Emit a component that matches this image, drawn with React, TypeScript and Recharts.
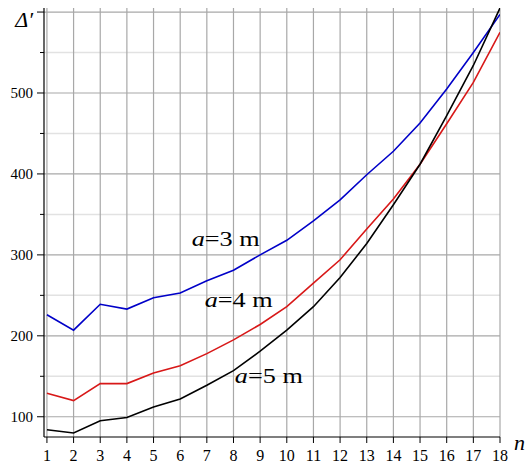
import React from 'react';
import { LineChart, Line, XAxis, YAxis, CartesianGrid, ReferenceDot, Label } from 'recharts';

const nValues = [1, 2, 3, 4, 5, 6, 7, 8, 9, 10, 11, 12, 13, 14, 15, 16, 17, 18];
const seriesA3 = [226, 207, 239, 233, 247, 253, 268, 281, 300, 318, 342, 368, 399, 428, 463, 505, 550, 597];
const seriesA4 = [129, 120, 141, 141, 154, 163, 178, 195, 214, 236, 265, 294, 332, 369, 412, 462, 513, 575];
const seriesA5 = [84, 80, 95, 99, 112, 122, 139, 157, 181, 207, 236, 272, 314, 362, 412, 472, 534, 605];
const yMajor = [100, 200, 300, 400, 500, 600];
const yMinor = [150, 250, 350, 450, 550];
const yTicks = [100, 150, 200, 250, 300, 350, 400, 450, 500, 550, 600];

const data = nValues.map((n, i) => ({ n, a3: seriesA3[i], a4: seriesA4[i], a5: seriesA5[i] }));

const serif = { fontFamily: '"Liberation Serif", "Times New Roman", serif' };

const YTick = (props: any) => {
  const { x, y, payload } = props;
  const v = payload.value;
  const major = v % 100 === 0;
  return (
    <g>
      <line x1={x - (major ? 7 : 4)} x2={x} y1={y} y2={y} stroke="#000" strokeWidth={1} />
      {v === 600 ? (
        <text x={x - 11} y={y + 15} textAnchor="end" style={serif} fontStyle="italic" fontSize={22} fill="#000">
          Δ′
        </text>
      ) : major ? (
        <text x={x - 11} y={y + 5.5} textAnchor="end" style={serif} fontSize={15} fill="#000">
          {v}
        </text>
      ) : null}
    </g>
  );
};

const XTick = (props: any) => {
  const { x, y, payload } = props;
  return (
    <g>
      <line x1={x} x2={x} y1={y} y2={y + 6} stroke="#000" strokeWidth={1} />
      <text x={x} y={y + 24} textAnchor="middle" style={serif} fontSize={16} fill="#000">
        {payload.value}
      </text>
    </g>
  );
};

const Annot = (label: string) => (props: any) => {
  const { cx, cy } = props;
  return (
    <text x={cx} y={cy} style={serif} fontSize={20} fill="#000" textLength={68} lengthAdjust="spacingAndGlyphs">
      <tspan fontStyle="italic">a</tspan>
      <tspan>{label}</tspan>
    </text>
  );
};

export default function App() {
  return (
    <div style={{ position: 'absolute', left: 0, top: 0, width: 525, height: 466, background: '#fff' }}>
      <LineChart width={525} height={466} data={data} margin={{ top: 8, right: 25, bottom: 0, left: 0 }}>
        <CartesianGrid horizontalValues={yMinor} vertical={false} stroke="#e2e2e2" strokeWidth={1.5} />
        <CartesianGrid horizontalValues={yMajor} verticalValues={nValues} stroke="#a8a8a8" strokeWidth={1.2} />
        <XAxis
          dataKey="n"
          type="number"
          domain={[0.89, 18]}
          ticks={nValues}
          interval={0}
          height={29}
          tickSize={0}
          tickMargin={0}
          tickLine={false}
          tick={<XTick />}
          axisLine={{ stroke: '#000', strokeWidth: 1.2 }}
          allowDataOverflow
        >
          <Label
            content={(p: any) => {
              const vb = p.viewBox;
              return (
                <text x={vb.x + vb.width + 14} y={vb.y + 12.5} style={serif} fontStyle="italic" fontSize={22} fill="#000">
                  n
                </text>
              );
            }}
          />
        </XAxis>
        <YAxis
          type="number"
          domain={[75, 605]}
          ticks={yTicks}
          interval={0}
          width={44}
          tickSize={0}
          tickMargin={0}
          tickLine={false}
          tick={<YTick />}
          axisLine={{ stroke: '#000', strokeWidth: 1.2 }}
          allowDataOverflow
        />
        <Line dataKey="a3" stroke="#0000c8" strokeWidth={1.6} dot={false} isAnimationActive={false} type="linear" />
        <Line dataKey="a4" stroke="#d81818" strokeWidth={1.6} dot={false} isAnimationActive={false} type="linear" />
        <Line dataKey="a5" stroke="#000" strokeWidth={1.6} dot={false} isAnimationActive={false} type="linear" />
        <ReferenceDot x={6.43} y={311} r={0} shape={Annot('=3 m')} />
        <ReferenceDot x={6.92} y={236} r={0} shape={Annot('=4 m')} />
        <ReferenceDot x={8.05} y={142} r={0} shape={Annot('=5 m')} />
      </LineChart>
    </div>
  );
}
